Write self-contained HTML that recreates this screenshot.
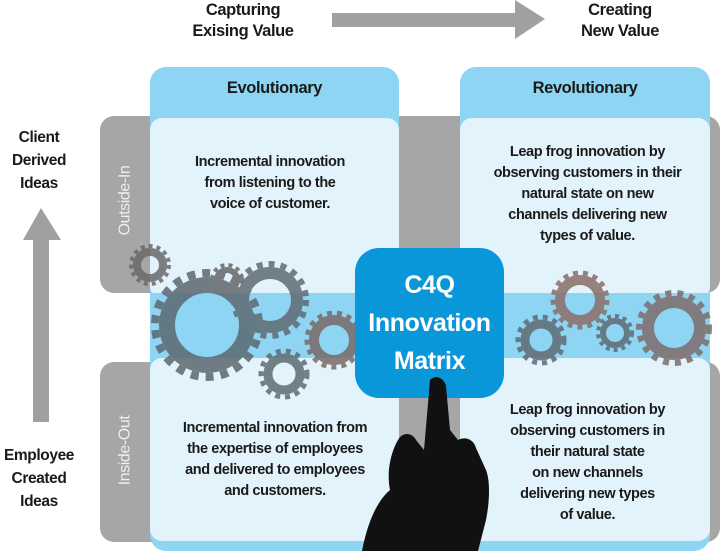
<!DOCTYPE html>
<html><head><style>
body{margin:0;width:720px;height:551px;background:#fff;position:relative;overflow:hidden;font-family:"Liberation Sans",sans-serif;}
.a{position:absolute;}
.t{position:absolute;text-align:center;color:#1a1a1a;font-size:14.5px;line-height:21px;font-weight:bold;letter-spacing:-0.4px;}
</style></head><body>
<svg class="a" style="left:0;top:0" width="720" height="551">
<polygon points="332,13 515,13 515,0 545,19 515,39 515,27 332,27" fill="#a0a0a0"/>
<polygon points="33,422 49,422 49,240 61,240 41,208 23,240 33,240" fill="#a0a0a0"/>
<rect x="100" y="116" width="620" height="177" rx="14" fill="#a6a6a6"/>
<rect x="100" y="362" width="620" height="180" rx="14" fill="#a6a6a6"/>
<rect x="150" y="67" width="249" height="484" rx="16" fill="#8dd5f2"/>
<rect x="460" y="67" width="250" height="484" rx="16" fill="#8dd5f2"/>
<rect x="150" y="290" width="560" height="72" fill="#8dd5f2"/>
<rect x="150" y="118" width="249" height="180" rx="12" fill="#e2f3fb"/>
<rect x="460" y="118" width="250" height="180" rx="12" fill="#e2f3fb"/>
<rect x="150" y="358" width="249" height="183" rx="12" fill="#e2f3fb"/>
<rect x="460" y="358" width="250" height="183" rx="12" fill="#e2f3fb"/>
<rect x="150" y="293" width="560" height="65" fill="#8dd5f2"/>
<g fill="none" opacity="0.85">
<circle cx="207" cy="325" r="40" stroke="#5b6870" stroke-width="16"/>
<circle cx="207" cy="325" r="52" stroke="#5b6870" stroke-width="8" stroke-dasharray="8 7"/>
<circle cx="270" cy="300" r="27" stroke="#5f6b73" stroke-width="12"/>
<circle cx="270" cy="300" r="36" stroke="#5f6b73" stroke-width="6" stroke-dasharray="6 6"/>
<circle cx="227" cy="280" r="10" stroke="#666" stroke-width="6"/>
<circle cx="227" cy="280" r="15" stroke="#666" stroke-width="4" stroke-dasharray="4 4"/>
<circle cx="334" cy="340" r="20" stroke="#7a6a68" stroke-width="10"/>
<circle cx="334" cy="340" r="27" stroke="#7a6a68" stroke-width="5" stroke-dasharray="5 5"/>
<circle cx="284" cy="374" r="16" stroke="#5f6b73" stroke-width="9"/>
<circle cx="284" cy="374" r="23" stroke="#5f6b73" stroke-width="5" stroke-dasharray="5 5"/>
<circle cx="150" cy="265" r="13" stroke="#6a6a6a" stroke-width="8"/>
<circle cx="150" cy="265" r="19" stroke="#6a6a6a" stroke-width="4" stroke-dasharray="4 4"/>
<circle cx="580" cy="300" r="20" stroke="#8a6e68" stroke-width="10"/>
<circle cx="580" cy="300" r="27" stroke="#8a6e68" stroke-width="5" stroke-dasharray="5 5"/>
<circle cx="541" cy="340" r="16" stroke="#5f6b73" stroke-width="9"/>
<circle cx="541" cy="340" r="23" stroke="#5f6b73" stroke-width="5" stroke-dasharray="5 5"/>
<circle cx="615" cy="333" r="12" stroke="#5f6b73" stroke-width="6"/>
<circle cx="615" cy="333" r="17" stroke="#5f6b73" stroke-width="4" stroke-dasharray="4 4"/>
<circle cx="674" cy="328" r="26" stroke="#7e6c6a" stroke-width="12"/>
<circle cx="674" cy="328" r="35" stroke="#7e6c6a" stroke-width="6" stroke-dasharray="6 6"/>
</g>
<rect x="355" y="248" width="149" height="150" rx="24" fill="#0a97d9"/>
<path d="M430,380 C436,374 444,378 446,386 L450,430 L458,440 C466,436 474,440 476,448 L486,470 C490,480 490,500 486,520 L478,551 L362,551 C368,520 378,500 390,490 C386,470 392,450 398,440 C402,432 412,432 416,440 L424,450 Z" fill="#111"/>
</svg>
<div class="t" style="left:183px;top:0;width:120px;font-size:16.5px;">Capturing<br>Exising Value</div>
<div class="t" style="left:560px;top:0;width:120px;font-size:16.5px;">Creating<br>New Value</div>
<div class="t" style="left:150px;top:78px;width:249px;font-size:16.5px;">Evolutionary</div>
<div class="t" style="left:460px;top:78px;width:250px;font-size:16.5px;">Revolutionary</div>
<div class="t" style="left:0;top:126px;width:78px;font-size:15.5px;line-height:23px;">Client<br>Derived<br>Ideas</div>
<div class="t" style="left:0;top:444px;width:78px;font-size:15.5px;line-height:23px;">Employee<br>Created<br>Ideas</div>
<div class="t" style="left:65px;top:190px;width:120px;color:#eee;font-size:16px;font-weight:normal;transform:rotate(-90deg);">Outside-In</div>
<div class="t" style="left:65px;top:440px;width:120px;color:#eee;font-size:16px;font-weight:normal;transform:rotate(-90deg);">Inside-Out</div>
<div class="t" style="left:150px;top:152px;width:240px;">Incremental innovation<br>from listening to the<br>voice of customer.</div>
<div class="t" style="left:465px;top:142px;width:245px;">Leap frog innovation by<br>observing customers in their<br>natural state on new<br>channels delivering new<br>types of value.</div>
<div class="t" style="left:150px;top:418px;width:250px;">Incremental innovation from<br>the expertise of employees<br>and delivered to employees<br>and customers.</div>
<div class="t" style="left:465px;top:400px;width:245px;">Leap frog innovation by<br>observing customers in<br>their natural state<br>on new channels<br>delivering new types<br>of value.</div>
<div class="t" style="left:355px;top:266px;width:149px;color:#fff;font-size:25px;line-height:38px;">C4Q<br>Innovation<br>Matrix</div>
</body></html>
